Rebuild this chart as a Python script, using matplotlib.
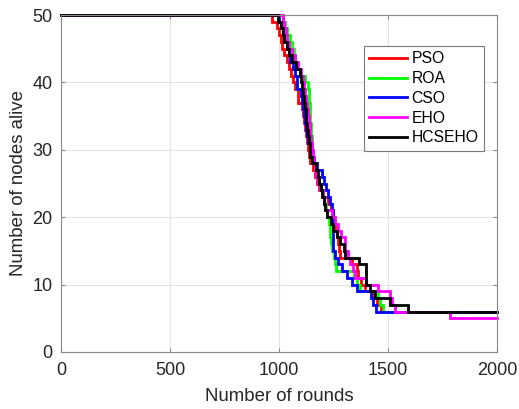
import matplotlib
matplotlib.use("Agg")
import matplotlib.pyplot as plt

plt.rcParams['font.family'] = ['Liberation Sans', 'DejaVu Sans']

# Alive-node step curves: (round at which count changes, nodes alive from that round)
pso_rounds = [0, 966, 990, 1000, 1008, 1015, 1025, 1035, 1045, 1055, 1065, 1075, 1089, 1104,
              1110, 1114, 1119, 1124, 1128, 1132, 1137, 1143, 1155, 1165, 1175, 1185, 1200,
              1226, 1237, 1249, 1254, 1259, 1265, 1272, 1277, 1280, 1337, 1359, 1364, 1375,
              1394, 1430, 1450, 1470, 2000]
pso_alive = [50, 49, 48, 47, 46, 45, 44, 43, 42, 41, 40, 39, 37, 36,
             35, 34, 33, 32, 31, 30, 29, 28, 27, 26, 25, 24, 23,
             22, 21, 20, 19, 18, 17, 16, 15, 14, 13, 12, 11, 10,
             9, 8, 7, 6, 6]

roa_rounds = [0, 1020, 1028, 1035, 1050, 1060, 1068, 1073, 1080, 1095, 1119, 1133, 1136,
              1138, 1140, 1142, 1144, 1146, 1148, 1150, 1152, 1155, 1160, 1168, 1176, 1184,
              1192, 1200, 1208, 1215, 1222, 1228, 1232, 1236, 1240, 1244, 1250, 1256, 1262,
              1345, 1356, 1370, 1455, 1465, 1477, 2000]
roa_alive = [50, 49, 48, 47, 46, 45, 44, 43, 42, 41, 40, 39, 38,
             37, 36, 35, 34, 33, 32, 31, 30, 29, 28, 27, 26, 25,
             24, 23, 22, 21, 20, 19, 18, 17, 16, 15, 14, 13, 12,
             11, 10, 9, 8, 7, 6, 6]

cso_rounds = [0, 1000, 1010, 1018, 1025, 1035, 1045, 1052, 1064, 1072, 1083, 1100, 1104,
              1108, 1113, 1118, 1123, 1128, 1133, 1140, 1148, 1160, 1173, 1196, 1205, 1215,
              1225, 1235, 1242, 1246, 1249, 1257, 1272, 1287, 1310, 1333, 1356, 1420, 1433,
              1445, 2000]
cso_alive = [50, 49, 48, 47, 46, 45, 44, 43, 42, 41, 39, 38, 37,
             36, 35, 34, 33, 32, 31, 30, 29, 28, 27, 26, 25, 24,
             23, 22, 21, 20, 15, 14, 13, 12, 11, 10, 9, 8, 7,
             6, 6]

eho_rounds = [0, 1020, 1025, 1030, 1038, 1048, 1060, 1075, 1088, 1100, 1110, 1115, 1120,
              1125, 1128, 1132, 1136, 1140, 1144, 1148, 1152, 1158, 1162, 1165, 1172, 1180,
              1190, 1200, 1206, 1211, 1245, 1255, 1270, 1285, 1303, 1318, 1326, 1341, 1349,
              1400, 1456, 1509, 1517, 1532, 1784, 2000]
eho_alive = [50, 49, 48, 47, 46, 45, 44, 43, 42, 41, 40, 39, 38,
             37, 36, 35, 34, 33, 32, 31, 30, 29, 28, 27, 26, 25,
             24, 23, 22, 21, 20, 19, 18, 17, 15, 14, 13, 12, 11,
             10, 9, 8, 7, 6, 5, 5]

hcseho_rounds = [0, 997, 1008, 1017, 1023, 1035, 1045, 1061, 1078, 1096, 1100, 1104, 1110,
                 1113, 1118, 1122, 1126, 1130, 1134, 1137, 1140, 1144, 1150, 1170, 1178, 1185,
                 1192, 1198, 1205, 1212, 1219, 1237, 1249, 1265, 1280, 1298, 1305, 1369, 1399,
                 1417, 1440, 1509, 1593, 2000]
hcseho_alive = [50, 49, 48, 47, 46, 45, 44, 43, 42, 41, 40, 39, 38,
                37, 36, 35, 34, 33, 32, 31, 30, 29, 28, 27, 26, 25,
                24, 23, 22, 21, 20, 19, 18, 17, 16, 15, 14, 13, 10,
                9, 8, 7, 6, 6]

series = [
    ("PSO", pso_rounds, pso_alive, "#ff0000"),
    ("ROA", roa_rounds, roa_alive, "#00ff00"),
    ("CSO", cso_rounds, cso_alive, "#0000ff"),
    ("EHO", eho_rounds, eho_alive, "#ff00ff"),
    ("HCSEHO", hcseho_rounds, hcseho_alive, "#000000"),
]

x_ticks = [0, 500, 1000, 1500, 2000]
y_ticks = [0, 10, 20, 30, 40, 50]

fig = plt.figure(figsize=(5.19, 4.09), dpi=100)
ax = fig.add_axes([61 / 519, 57 / 409, 436 / 519, 337 / 409])

for name, r, a, c in series:
    ax.plot(r, a, drawstyle="steps-post", color=c, lw=2.0, label=name,
            clip_on=False, solid_joinstyle="miter")

ax.set_xlim(0, 2000)
ax.set_ylim(0, 50)
ax.set_xticks(x_ticks)
ax.set_yticks(y_ticks)
ax.grid(True, color="#e3e3e3", lw=0.8)
ax.set_axisbelow(True)

for s in ax.spines.values():
    s.set_color("#8a8a8a")
    s.set_linewidth(0.8)
ax.tick_params(direction="in", length=3, width=0.8, color="#8a8a8a",
               labelcolor="#262626", labelsize=13, top=True, right=True)
ax.tick_params(axis="x", pad=7.5)
ax.tick_params(axis="y", pad=6)

ax.set_xlabel("Number of rounds", fontsize=13.4, color="#262626", labelpad=6)
ax.set_ylabel("Number of nodes alive", fontsize=13.4, color="#262626", labelpad=4)

leg = ax.legend(loc="upper right", bbox_to_anchor=(0.970, 0.908), fontsize=11.3,
                frameon=True, fancybox=False, edgecolor="#7a7a7a", framealpha=1,
                handlelength=2.4, handletextpad=0.3, labelspacing=0.3,
                borderpad=0.35, borderaxespad=0)
leg.get_frame().set_linewidth(0.8)

fig.savefig("out.png", dpi=100)
